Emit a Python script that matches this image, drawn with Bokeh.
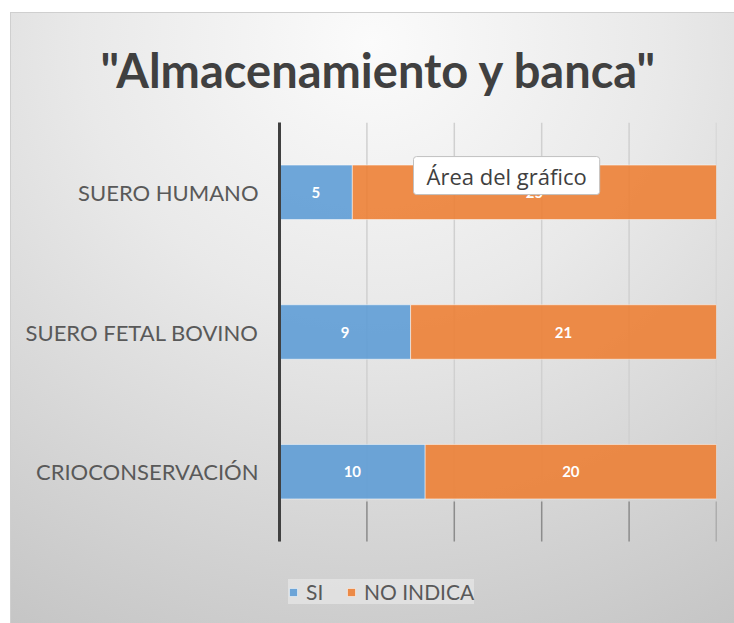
from bokeh.plotting import figure
from bokeh.models import ColumnDataSource, FixedTicker, LabelSet, Label, Legend, LegendItem, Range1d
from bokeh.embed import file_html
from bokeh.resources import INLINE
from bokeh.core.properties import value

# ---- data ----
categories = ["CRIOCONSERVACIÓN", "SUERO FETAL BOVINO", "SUERO HUMANO"]
si = [10, 9, 5]
no_indica = [20, 21, 25]
series = ["SI", "NO INDICA"]
x_ticks = [0, 6, 12, 18, 24, 30]
title_text = '"Almacenamiento y banca"'
tooltip_text = "Área del gráfico"

BLUE = "#5b9bd5"
ORANGE = "#ed7d31"
FONT = "Lato"

# category slots on a numeric axis (centre of each band)
y_pos = [i + 0.5 for i in range(len(categories))]
n_cat = len(categories)

src = ColumnDataSource(dict(y=y_pos, SI=si, **{"NO INDICA": no_indica}))

# label positions derived from the data
lab_x, lab_y, lab_t = [], [], []
for yy, a, b in zip(y_pos, si, no_indica):
    lab_x += [a / 2, a + b / 2]
    lab_y += [yy, yy]
    lab_t += [str(a), str(b)]
lab_src = ColumnDataSource(dict(x=lab_x, y=lab_y, t=lab_t))

p = figure(x_range=Range1d(0, 30), y_range=Range1d(-0.587, n_cat),
           width=724, height=611,
           output_backend="svg", toolbar_location=None,
           min_border_left=269, min_border_right=18,
           min_border_top=110, min_border_bottom=0)
p.margin = (12, 0, 0, 10)
p.background_fill_alpha = 0
p.border_fill_alpha = 0
p.outline_line_color = None
p.styles = {
    "background": "radial-gradient(ellipse 100% 110% at 50% 5%, #fbfbfb 0%, #e9e9e9 40%, #c5c5c5 100%)",
    "box-shadow": "inset 1px 1px 0 0 #cfcfcf",
}

p.xgrid.visible = False
p.ygrid.visible = False
p.xaxis.visible = False

# vertical grid lines across the category area
p.segment(x0=x_ticks, x1=x_ticks, y0=0, y1=n_cat,
          line_color="#d0d0d0", line_width=1.5)
# darker tick marks at the bottom of the category area
p.segment(x0=x_ticks, x1=x_ticks, y0=0, y1=0.286,
          line_color="#8c8c8c", line_width=1.5)

renderers = p.hbar_stack(series, y="y", height=0.39, color=[BLUE, ORANGE],
                         source=src, fill_alpha=0.88,
                         line_color="white", line_alpha=0.5, line_width=1)

labels = LabelSet(x="x", y="y", text="t", source=lab_src,
                  text_align="center", text_baseline="middle",
                  text_color="white", text_font=value(FONT),
                  text_font_style="bold", text_font_size="15px")
p.add_layout(labels)

# title
p.title.text = title_text
p.title.align = "left"
p.title.text_font = FONT
p.title.text_font_style = "bold"
p.title.text_font_size = "47px"
p.title.text_color = "#404040"
p.title.offset = -179
p.title.standoff = 49

# y axis
p.yaxis.ticker = FixedTicker(ticks=y_pos)
p.yaxis.major_label_overrides = {yy: c for yy, c in zip(y_pos, categories)}
p.yaxis.bounds = (0, n_cat)
p.yaxis.axis_line_width = 3
p.yaxis.axis_line_color = "#404040"
p.yaxis.major_tick_line_color = None
p.yaxis.minor_tick_line_color = None
p.yaxis.major_label_text_font = FONT
p.yaxis.major_label_text_font_size = "22px"
p.yaxis.major_label_text_color = "#595959"
p.yaxis.major_label_standoff = 15

# tooltip-like box present in the reference
shadow = Label(x=9.2, y=2.62, text=tooltip_text, text_font="Open Sans",
               text_font_size="22px", text_alpha=0, text_baseline="middle",
               x_offset=3, y_offset=-3, padding=(13, 4),
               background_fill_color="black", background_fill_alpha=0.22,
               border_radius=3)
tip = Label(x=9.2, y=2.62, text=tooltip_text, text_font="Open Sans",
            text_font_size="22px", text_color="#404040", text_baseline="middle",
            padding=(13, 4), background_fill_color="white",
            border_line_color="#c0c0c0", border_radius=3)
p.add_layout(shadow)
p.add_layout(tip)

legend = Legend(items=[LegendItem(label=s, renderers=[r]) for s, r in zip(series, renderers)],
                orientation="horizontal", location=(9, 19),
                glyph_width=10, glyph_height=10, label_standoff=8, spacing=20,
                padding=12, margin=0,
                label_text_font=FONT, label_text_font_size="21px",
                label_text_color="#595959",
                background_fill_color="#e6e6e6", background_fill_alpha=0.75,
                border_line_color=None)
p.add_layout(legend, "center")

open("out.html", "w").write(file_html(p, INLINE))
